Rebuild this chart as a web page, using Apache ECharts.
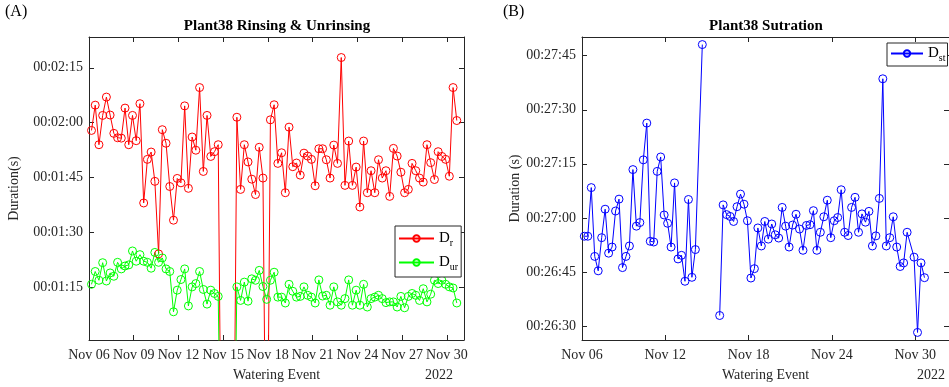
<!DOCTYPE html>
<html>
<head>
<meta charset="utf-8">
<script src="https://cdn.jsdelivr.net/npm/echarts@6/dist/echarts.min.js"></script>
<style>
  html, body { margin: 0; padding: 0; background: #fff; }
  #chart { width: 949px; height: 387px; }
</style>
</head>
<body>
<div id="chart"></div>
<script>
// watering events, hours after Nov 06 00:00 (2022)
const eventHours = [4, 10, 16, 22, 28, 34, 40, 46, 52, 58, 64, 70, 76, 82, 88, 94, 100, 106, 112, 118,
  124, 130, 136, 142, 148, 154, 160, 166, 172, 178, 184, 190, 196, 202, 208, 214, 220, 226, 232, 238,
  244, 250, 256, 262, 268, 274, 280, 286, 292, 298, 304, 310, 316, 322, 328, 334, 340, 346, 352, 358,
  364, 370, 376, 382, 388, 394, 400, 406, 412, 418, 424, 430, 436, 442, 448, 454, 460, 466, 472, 478,
  484, 490, 496, 502, 508, 514, 520, 526, 532, 538, 544, 550, 556, 562, 568, 574, 580, 586, 592];

// D_r : rinsing duration (s)
const rinseSec = [117.9, 124.8, 114.0, 122.0, 127.0, 122.1, 117.1, 115.9, 115.8, 124.0,
  114.0, 122.0, 115.1, 125.2, 98.1, 110.0, 112.0, 104.0, 84.2, 118.1,
  114.4, 102.6, 93.4, 104.8, 103.6, 124.6, 102.1, 116.1, 112.5, 129.6,
  106.7, 122.0, 110.8, 112.1, 114.0, 0, 0, 0, 0, 121.5,
  101.8, 114.0, 109.3, 104.6, 100.4, 113.3, 104.9, 0, 120.8, 124.9,
  108.9, 111.8, 100.9, 118.8, 108.0, 109.0, 105.7, 111.7, 110.9, 110.0,
  102.8, 112.9, 112.9, 109.9, 104.9, 113.9, 108.9, 137.8, 102.9, 115.0,
  102.9, 107.9, 97.0, 115.0, 100.9, 106.9, 100.9, 109.9, 104.9, 106.9,
  99.9, 113.0, 110.9, 106.5, 100.9, 101.8, 108.9, 106.9, 104.9, 103.8,
  114.0, 109.1, 104.5, 112.1, 110.8, 110.0, 105.4, 129.6, 120.6];

// D_ur : unrinsing duration (s)
const unrinseSec = [75.9, 79.4, 77.0, 81.8, 76.8, 79.0, 78.1, 81.9, 80.1, 80.9,
  81.2, 85.0, 82.2, 84.0, 82.2, 81.9, 80.3, 84.6, 81.9, 83.1,
  80.1, 79.4, 68.4, 74.3, 77.2, 80.1, 70.0, 75.2, 76.1, 79.4,
  74.5, 70.5, 74.3, 73.4, 72.6, 0, 0, 0, 0, 75.2,
  71.5, 76.5, 71.3, 77.4, 77.0, 79.7, 75.3, 71.8, 77.0, 79.2,
  72.4, 72.4, 70.8, 75.9, 74.0, 72.4, 72.6, 75.2, 72.9, 72.4,
  70.8, 77.1, 72.7, 72.9, 70.2, 75.2, 71.1, 70.2, 72.0, 77.1,
  70.2, 74.3, 70.2, 75.9, 69.7, 72.0, 72.4, 72.9, 72.0, 70.9,
  71.1, 71.1, 69.7, 72.6, 69.5, 72.6, 73.4, 72.9, 71.5, 74.7,
  71.1, 73.2, 77.0, 76.1, 77.0, 75.9, 75.2, 74.9, 70.8];

// D_st : saturation duration (s), its own event hours (some events missing)
const satHours = [4, 10, 16, 22, 28, 34, 40, 46, 52, 58, 64, 70, 76, 82, 88, 94, 100, 106, 112, 118,
  124, 130, 136, 142, 148, 154, 160, 166, 172, 178, 184, 190, 196, 208, 214, 220, 226, 232, 238,
  244, 250, 256, 262, 268, 274, 280, 286, 292, 298, 304, 310, 316, 322, 328, 334, 340, 346, 352, 358,
  364, 370, 376, 382, 388, 394, 400, 406, 412, 418, 424, 430, 436, 442, 448, 454, 460, 466, 472, 478,
  484, 490, 496, 502, 508, 514, 520, 526, 532, 538, 544, 550, 556, 562, 574, 580, 586, 592];
const satSec = [1614.9, 1614.9, 1628.4, 1609.3, 1605.3, 1614.5, 1622.4, 1610.2, 1611.9, 1621.9,
  1625.2, 1606.2, 1609.3, 1612.2, 1633.4, 1617.7, 1618.7, 1636.1, 1646.3, 1613.5,
  1613.3, 1632.9, 1636.9, 1620.8, 1618.5, 1611.9, 1629.7, 1608.6, 1609.6, 1602.4,
  1625.1, 1603.5, 1611.2, 1668.1, null, null, null, null, 1592.9,
  1623.6, 1620.9, 1620.4, 1619.0, 1623.1, 1626.6, 1623.8, 1619.2, 1603.3, 1605.9,
  1617.2, 1612.2, 1619.0, 1614.1, 1618.3, 1615.3, 1614.4, 1622.9, 1617.7, 1611.9,
  1618.0, 1621.0, 1616.9, 1611.0, 1617.9, 1618.1, 1622.0, 1611.0, 1616.0, 1620.3,
  1624.9, 1614.5, 1619.2, 1620.1, 1627.8, 1616.0, 1615.1, 1622.9, 1625.7, 1616.0,
  1621.1, 1618.8, 1621.8, 1612.2, 1615.0, 1625.4, 1658.6, 1612.2, 1614.5, 1620.3,
  1611.9, 1606.5, 1607.5, 1616.0, 1609.1, 1588.2, 1607.5, 1603.4];

// tick labels
const leftDayTicks = [0, 72, 144, 216, 288, 360, 432, 504, 576];   // Nov 06 .. Nov 30, every 3 days
const rightDayTicks = [0, 144, 288, 432, 576];                     // every 6 days
const leftYTicks = [75, 90, 105, 120, 135];
const rightYTicks = [1590, 1605, 1620, 1635, 1650, 1665];

const FONT = 'Liberation Serif';
const AXIS = '#262626';

const pad = n => String(n).padStart(2, '0');
const dayLabel = h => 'Nov ' + pad(6 + Math.round(h / 24));
const hms = s => {
  const m = Math.floor(s / 60);
  return '00:' + pad(m) + ':' + pad(Math.round(s - m * 60));
};

function xAxes(gridIndex, ticks, max) {
  const base = {
    type: 'value', gridIndex, min: 0, max,
    axisLine: { show: true, onZero: false, lineStyle: { color: AXIS, width: 1 } },
    axisTick: { inside: true, length: 5, customValues: ticks, lineStyle: { color: AXIS } },
    splitLine: { show: false }
  };
  return [
    Object.assign({}, base, {
      position: 'bottom',
      axisLabel: { customValues: ticks, formatter: dayLabel, fontFamily: FONT, fontSize: 14, color: AXIS, margin: 8 },
      name: 'Watering Event', nameLocation: 'middle', nameGap: 28,
      nameTextStyle: { fontFamily: FONT, fontSize: 14, color: AXIS }
    }),
    Object.assign({}, base, { position: 'top', axisLabel: { show: false } })
  ];
}

function yAxes(gridIndex, ticks, min, max, name, gap) {
  const base = {
    type: 'value', gridIndex, min, max,
    axisLine: { show: true, onZero: false, lineStyle: { color: AXIS, width: 1 } },
    axisTick: { inside: true, length: 5, customValues: ticks, lineStyle: { color: AXIS } },
    splitLine: { show: false }
  };
  return [
    Object.assign({}, base, {
      position: 'left',
      axisLabel: { customValues: ticks, formatter: hms, fontFamily: FONT, fontSize: 14, color: AXIS, margin: 6 },
      name, nameLocation: 'middle', nameGap: gap,
      nameTextStyle: { fontFamily: FONT, fontSize: 14, color: AXIS }
    }),
    Object.assign({}, base, { position: 'right', axisLabel: { show: false } })
  ];
}

function lineSeries(name, color, xi, yi, hours, vals) {
  return {
    name, type: 'line', xAxisIndex: xi, yAxisIndex: yi,
    data: hours.map((h, i) => [h, vals[i] === null ? '-' : vals[i]]),
    symbol: 'circle', symbolSize: 8, showAllSymbol: true,
    itemStyle: { color: 'rgba(255,255,255,0)', borderColor: color, borderWidth: 1 },
    lineStyle: { color, width: 1 },
    connectNulls: false,
    emphasis: { disabled: true },
    z: 3
  };
}

const subRich = {
  m: { fontFamily: FONT, fontSize: 15, color: '#000' },
  s: { fontFamily: FONT, fontSize: 10, color: '#000', padding: [9, 0, 0, 0] }
};
const subFormatter = name => {
  const [b, s] = name.split('_');
  return '{m|' + b + '}{s|' + s + '}';
};

const chart = echarts.init(document.getElementById('chart'), null, { renderer: 'canvas' });

chart.setOption({
  animation: false,
  backgroundColor: '#fff',
  title: [
    { text: 'Plant38 Rinsing & Unrinsing', left: 277, top: 19, textAlign: 'center', padding: 0,
      textStyle: { fontFamily: FONT, fontSize: 15, fontWeight: 'bold', color: '#000' } },
    { text: 'Plant38 Sutration', left: 766, top: 19, textAlign: 'center', padding: 0,
      textStyle: { fontFamily: FONT, fontSize: 15, fontWeight: 'bold', color: '#000' } }
  ],
  grid: [
    { left: 89, right: 485, top: 37, bottom: 45 },
    { left: 582, right: 0, top: 37, bottom: 45 }
  ],
  xAxis: [...xAxes(0, leftDayTicks, 603.6), ...xAxes(1, rightDayTicks, 634.4)],
  yAxis: [
    ...yAxes(0, leftYTicks, 60.7, 143.4, 'Duration(s)', 68),
    ...yAxes(1, rightYTicks, 1586.1, 1670.2, 'Duration (s)', 60)
  ],
  legend: [
    { data: ['D_r', 'D_ur'], orient: 'vertical', left: 395, top: 226, itemWidth: 35, itemHeight: 8,
      itemGap: 7, padding: [5, 3, 5, 3], borderColor: AXIS, borderWidth: 1, backgroundColor: '#fff',
      selectedMode: false, textStyle: { rich: subRich }, formatter: subFormatter },
    { data: ['D_st'], orient: 'vertical', left: 887, top: 43, itemWidth: 32, itemHeight: 8,
      padding: [3, 2, 3, 3], borderColor: AXIS, borderWidth: 1, backgroundColor: '#fff',
      selectedMode: false, textStyle: { rich: subRich }, formatter: subFormatter }
  ],
  graphic: [
    { type: 'text', left: 5, top: 4, style: { text: '(A)', font: '16px "' + FONT + '"', fill: '#000' } },
    { type: 'text', left: 503, top: 4, style: { text: '(B)', font: '16px "' + FONT + '"', fill: '#000' } },
    { type: 'text', right: 949 - 453, top: 368, style: { text: '2022', font: '14px "' + FONT + '"', fill: AXIS } },
    { type: 'text', right: 4, top: 368, style: { text: '2022', font: '14px "' + FONT + '"', fill: AXIS } }
  ],
  series: [
    lineSeries('D_r', '#ff0000', 0, 0, eventHours, rinseSec),
    lineSeries('D_ur', '#00ff00', 0, 0, eventHours, unrinseSec),
    lineSeries('D_st', '#0000ff', 2, 2, satHours, satSec)
  ]
});

window.addEventListener('resize', () => chart.resize());
</script>
</body>
</html>
